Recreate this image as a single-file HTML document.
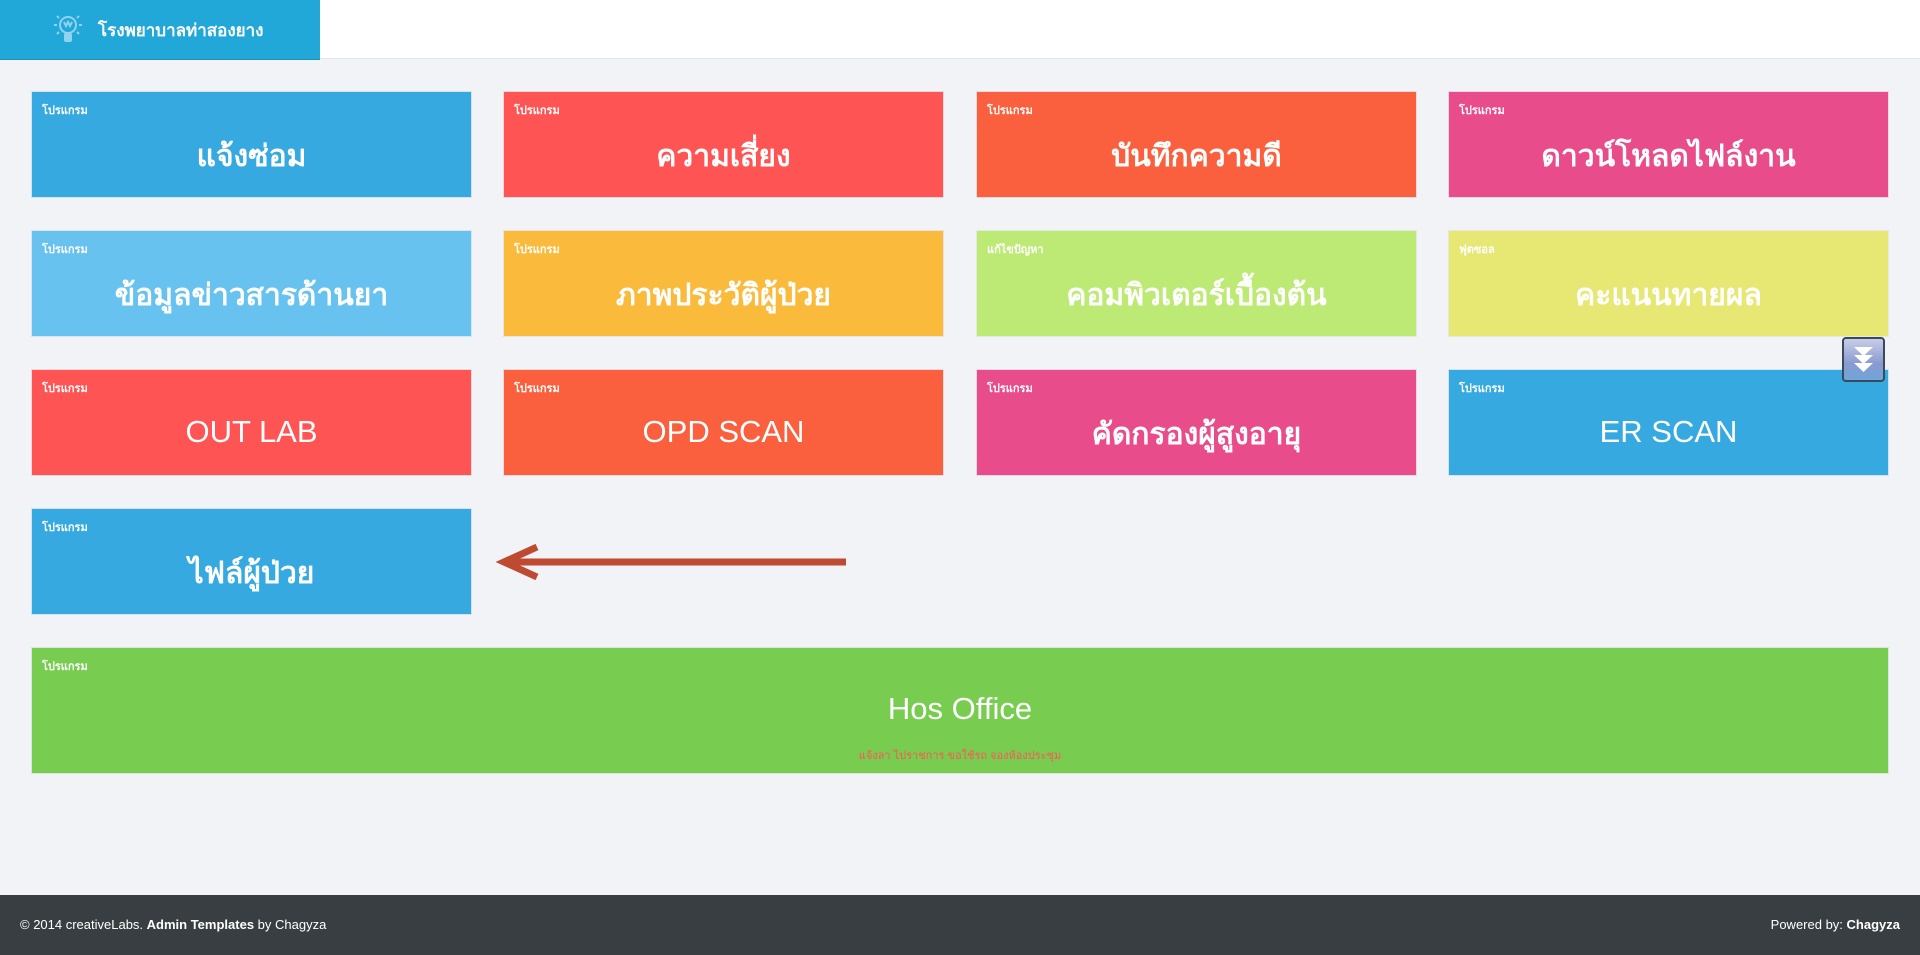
<!DOCTYPE html>
<html><head><meta charset="utf-8"><style>
*{margin:0;padding:0;box-sizing:border-box}
body{width:1920px;height:955px;background:#f2f3f7;font-family:"Liberation Sans","Noto Sans CJK SC",sans-serif;position:relative;overflow:hidden}
.top{position:absolute;left:0;top:0;width:1920px;height:59px;background:#fff;border-bottom:1px solid #e3e5ea}
.brand{position:absolute;left:0;top:0;width:320px;height:60px;background:#21a7d8;border-bottom:1px solid #1d8fb9;color:#fff;font-weight:bold;font-size:17px}
.brand span{position:absolute;left:98px;top:17px}
.t{position:absolute;width:441px;height:107px;color:#fff;border:1px solid rgba(230,232,238,.9)}
.t .l{position:absolute;left:10px;top:9px;font-size:11px;font-weight:bold}
.t .m{position:absolute;left:0;right:0;top:47px;text-align:center;font-size:30px;font-weight:bold;line-height:36px}
.t .e{font-weight:normal;font-size:31px;top:44px}
.foot{position:absolute;left:0;top:895px;width:1920px;height:60px;background:#383e42;color:#fff;font-size:13px}
</style></head><body>
<div class="top"></div>
<div class="brand">
<svg style="position:absolute;left:52px;top:12px" width="32" height="34" viewBox="0 0 32 34"><g fill="none" stroke="#8fd3ee" stroke-width="2"><circle cx="16" cy="13" r="8"/><path d="M12 10l2 4 2-4 2 4 2-4"/><path d="M2 13h3M27 13h3M5 4l2 2M27 4l-2 2M5 22l2-2M27 22l-2-2"/></g><rect x="12" y="21" width="8" height="9" rx="2" fill="#8fd3ee"/></svg>
<span>โรงพยาบาลท่าสองยาง</span></div>

<div class="t" style="left:31px;top:91px;background:#36a9e1"><div class="l">โปรแกรม</div><div class="m">แจ้งซ่อม</div></div>
<div class="t" style="left:503px;top:91px;background:#ff5454"><div class="l">โปรแกรม</div><div class="m">ความเสี่ยง</div></div>
<div class="t" style="left:976px;top:91px;background:#fa603d"><div class="l">โปรแกรม</div><div class="m">บันทึกความดี</div></div>
<div class="t" style="left:1448px;top:91px;background:#e84c8a"><div class="l">โปรแกรม</div><div class="m">ดาวน์โหลดไฟล์งาน</div></div>

<div class="t" style="left:31px;top:230px;background:#67c2ef"><div class="l">โปรแกรม</div><div class="m">ข้อมูลข่าวสารด้านยา</div></div>
<div class="t" style="left:503px;top:230px;background:#fabb3d"><div class="l">โปรแกรม</div><div class="m">ภาพประวัติผู้ป่วย</div></div>
<div class="t" style="left:976px;top:230px;background:#bdea74"><div class="l">แก้ไขปัญหา</div><div class="m">คอมพิวเตอร์เบื้องต้น</div></div>
<div class="t" style="left:1448px;top:230px;background:#e7e774"><div class="l">ฟุตซอล</div><div class="m">คะแนนทายผล</div></div>

<div class="t" style="left:31px;top:369px;background:#ff5454"><div class="l">โปรแกรม</div><div class="m e">OUT LAB</div></div>
<div class="t" style="left:503px;top:369px;background:#fa603d"><div class="l">โปรแกรม</div><div class="m e">OPD SCAN</div></div>
<div class="t" style="left:976px;top:369px;background:#e84c8a"><div class="l">โปรแกรม</div><div class="m">คัดกรองผู้สูงอายุ</div></div>
<div class="t" style="left:1448px;top:369px;background:#36a9e1"><div class="l">โปรแกรม</div><div class="m e">ER SCAN</div></div>

<div class="t" style="left:31px;top:508px;background:#36a9e1"><div class="l">โปรแกรม</div><div class="m">ไฟล์ผู้ป่วย</div></div>

<div class="t" style="left:31px;top:647px;width:1858px;height:127px;background:#78cd51"><div class="l">โปรแกรม</div><div class="m e" style="top:43px">Hos Office</div><div style="position:absolute;left:0;right:0;top:98px;text-align:center;font-size:11px;color:#ff5454">แจ้งลา ไปราชการ ขอใช้รถ จองห้องประชุม</div></div>

<svg style="position:absolute;left:495px;top:540px" width="360" height="45"><g stroke="#bd4a31" stroke-width="7" fill="none"><line x1="10" y1="22" x2="351" y2="22"/><polyline points="42,7 9,22 42,37"/></g></svg>

<div style="position:absolute;left:1842px;top:337px;width:43px;height:45px;border:2px solid #3a4a5a;border-radius:4px;background:linear-gradient(#c8cde8,#8a9ad0 60%,#6fa6d8)">
<svg width="39" height="41" viewBox="0 0 39 41"><g fill="#fff"><path d="M10 8h19l-9.5 9z"/><path d="M10 16h19l-9.5 9z"/><path d="M10 24h19l-9.5 9z"/></g></svg></div>

<div class="foot"><span style="position:absolute;left:20px;top:22px">© 2014 creativeLabs. <b>Admin Templates</b> by Chagyza</span><span style="position:absolute;right:20px;top:22px">Powered by: <b>Chagyza</b></span></div>
</body></html>
